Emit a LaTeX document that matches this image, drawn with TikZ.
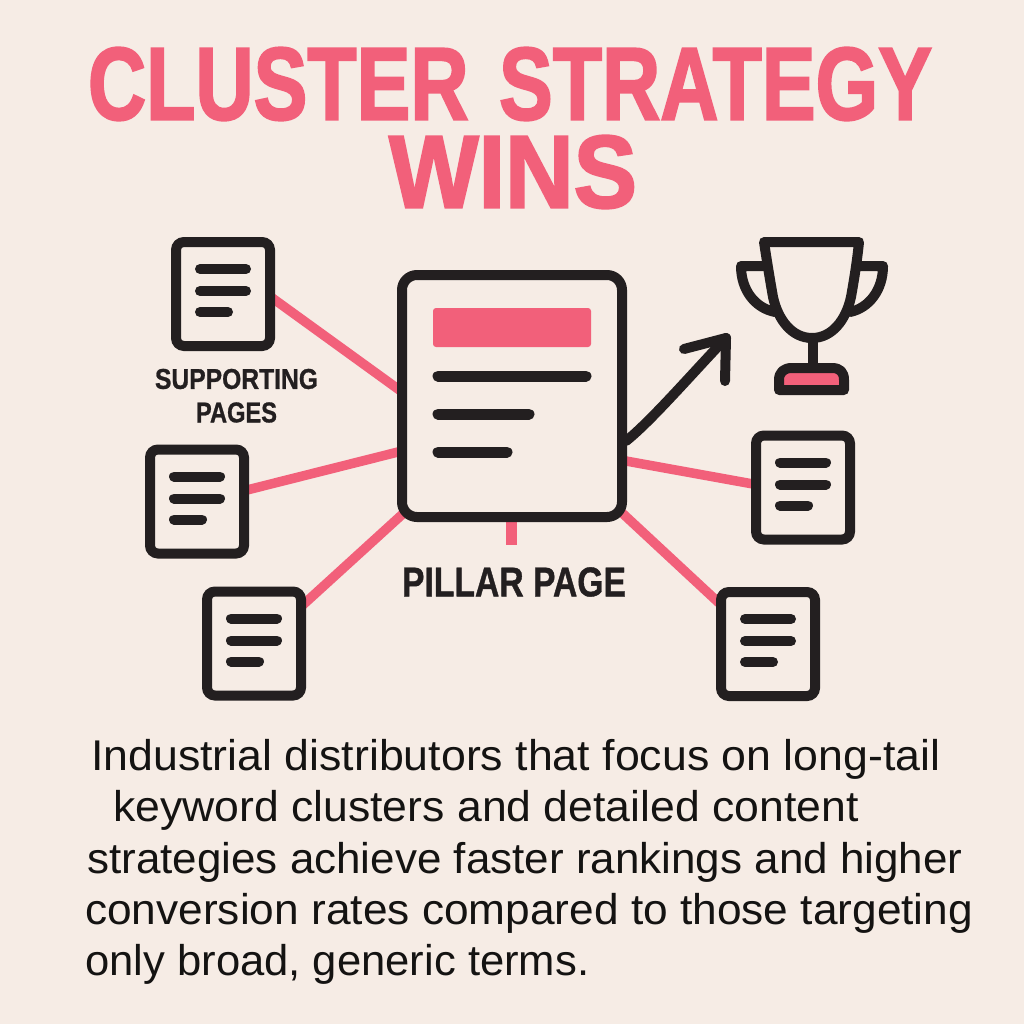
\documentclass[tikz,border=0pt]{standalone}
\usepackage{fontspec}
\setmainfont{Liberation Sans}
\newfontfamily\titlefont[BoldFeatures={FakeBold=2.2}]{Liberation Sans}
\newfontfamily\labelfont[BoldFeatures={FakeBold=1}]{Liberation Sans}
\definecolor{bgc}{HTML}{F6ECE5}
\definecolor{pinkc}{HTML}{F2607A}
\definecolor{inkc}{HTML}{231F20}
\tikzset{
  link/.style={draw=pinkc,line width=9.5pt,shorten <=-12pt,shorten >=-12pt},
  ink/.style={draw=inkc,line cap=round,line join=round,line width=10pt},
  docbox/.style={draw=inkc,line width=10pt,rounded corners=8pt,fill=bgc,minimum width=94pt,minimum height=104pt,inner sep=0pt},
  pillar/.style={draw=inkc,line width=10pt,rounded corners=15pt,fill=bgc,minimum width=220pt,minimum height=242pt,inner sep=0pt},
  ttl/.style={inner sep=0pt,text=pinkc,font=\titlefont\bfseries\fontsize{98}{98}\selectfont},
  lbl/.style={inner sep=0pt,text=inkc,font=\labelfont\bfseries\fontsize{40}{40}\selectfont},
  para/.style={inner sep=0pt,anchor=base west,text=black!92!bgc,font=\fontsize{43}{43}\selectfont}
}
\newcommand{\docat}[3]{%
  \node[docbox] (#1) at (#2,#3) {};
  \draw[ink] (#2-23,#3-25) -- (#2+23,#3-25) (#2-23,#3-3) -- (#2+23,#3-3) (#2-23,#3+18) -- (#2+5,#3+18);
}
\begin{document}
\begin{tikzpicture}[x=1pt,y=-1pt]
\path[fill=bgc] (0,0) rectangle (1024,1024);
\useasboundingbox (0,0) rectangle (1024,1024);
\node[ttl] (t1) at (510,84) {\resizebox{844pt}{72pt}{CLUSTER\hspace{0.1em} STRATEGY}};
\node[ttl] (t2) at (513,172) {\resizebox{248pt}{72pt}{WINS}};
% connectors (drawn first, so that their ends tuck under the boxes)
\coordinate (e1) at (398,389);\coordinate (s1) at (275,300);
\coordinate (e2) at (398,452);\coordinate (s2) at (247,490);
\coordinate (e3) at (406,511);\coordinate (s3) at (305,603);
\coordinate (e4) at (626,461);\coordinate (s4) at (753,484);
\coordinate (e5) at (620,511);\coordinate (s5) at (719,603);
\coordinate (s6) at (511.5,545);
\draw[link] (s1) -- (e1);
\draw[link] (s2) -- (e2);
\draw[link] (s3) -- (e3);
\draw[link] (s4) -- (e4);
\draw[link] (s5) -- (e5);
\draw[draw=pinkc,line width=11pt] (511.5,515) -- (s6);
% documents and pillar
\docat{d1}{223}{294}
\docat{d2}{197}{501.5}
\docat{d3}{254}{643.5}
\docat{d4}{803}{487.5}
\docat{d5}{768}{644}
\node[pillar] (p) at (512,396) {};
\node[fill=pinkc,minimum width=158pt,minimum height=39pt,inner sep=0pt,rounded corners=3pt] (bar) at (512,327.5) {};
\draw[ink,line width=11pt] (438,376) -- (586,376) (438,414) -- (529,414) (438,452) -- (507,452);
% arrow
\coordinate (a0) at (626,441);\coordinate (a1) at (726,338);
\draw[ink] (a0) .. controls (650,422) and (690,376) .. (a1);
\draw[ink] (684,349) -- (a1) -- (725,381);
% trophy
\draw[ink] (764,242) -- (859,242) .. controls (857,262) and (854,280) .. (851,297) .. controls (846,320) and (832,338) .. (812,338) .. controls (792,338) and (778,320) .. (773,297) .. controls (770,280) and (767,262) .. (764,242) -- cycle;
\draw[ink] (766,266) -- (741,266) .. controls (741,290) and (755,308) .. (775,312);
\draw[ink] (858,266) -- (883,266) .. controls (883,290) and (869,308) .. (850,312);
\draw[ink] (813,338) -- (813,366);
\draw[ink,fill=pinkc] (779,390) -- (779,380) .. controls (779,372) and (784,368) .. (792,368) -- (832,368) .. controls (840,368) and (844,372) .. (844,380) -- (844,390) -- cycle;
\node[lbl] (sp1) at (236.5,379) {\resizebox{163pt}{20pt}{SUPPORTING}};
\node[lbl] (sp2) at (236.5,412.5) {\resizebox{81pt}{20pt}{PAGES}};
\node[lbl] (pp) at (514,582) {\resizebox{224pt}{29pt}{PILLAR PAGE}};
\node[para] (l1) at (91,770) {\scalebox{1.039}[1]{Industrial distributors that focus on long-tail}};
\node[para] (l2) at (113,821) {\scalebox{1.036}[1]{keyword clusters and detailed content}};
\node[para] (l3) at (87,873) {\scalebox{1.023}[1]{strategies achieve faster rankings and higher}};
\node[para] (l4) at (85,924) {\scalebox{1.029}[1]{conversion rates compared to those targeting}};
\node[para] (l5) at (85,975) {\scalebox{1.014}[1]{only broad, generic terms.}};
\end{tikzpicture}
\end{document}
